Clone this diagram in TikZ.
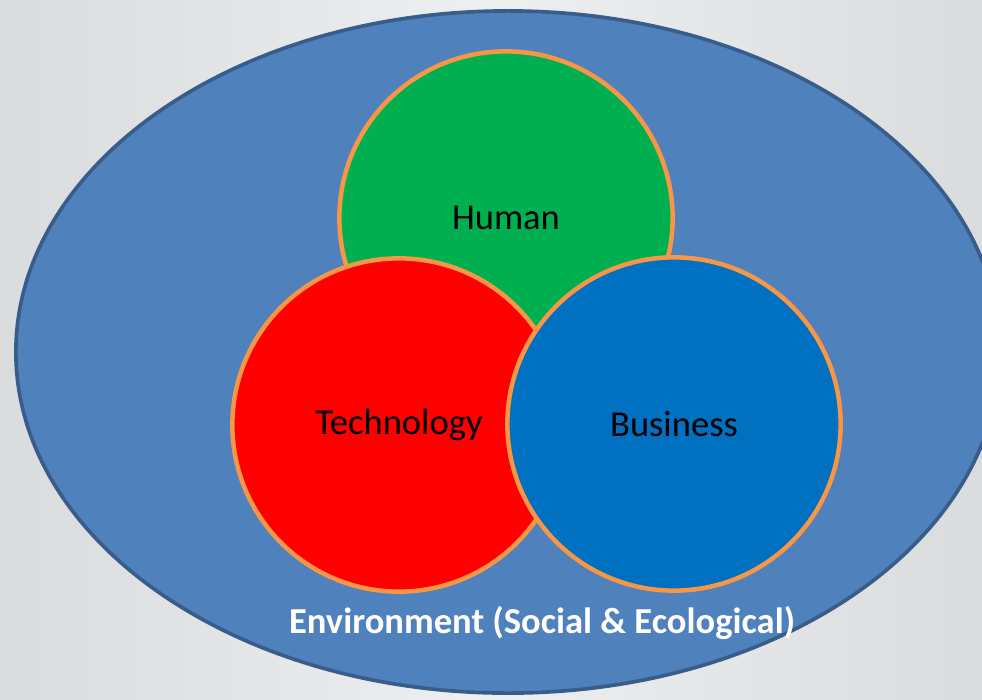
\documentclass[tikz,border=0pt]{standalone}
\usepackage{fontspec}
\setmainfont{Carlito}
\usetikzlibrary{shapes.geometric}

\definecolor{bgdark}{HTML}{DADBDD}
\definecolor{bglight}{HTML}{EEEFF1}
\definecolor{envblue}{HTML}{4F81BD}
\definecolor{envedge}{HTML}{385D8A}
\definecolor{vennorange}{HTML}{F79646}
\definecolor{humangreen}{HTML}{00B050}
\definecolor{techred}{HTML}{FF0000}
\definecolor{busblue}{HTML}{0070C0}

\begin{document}
\begin{tikzpicture}[x=0.025cm, y=-0.025cm,
  venn/.style={circle, draw=vennorange, line width=3.2pt, minimum size=8.33cm, inner sep=0pt, font=\fontsize{26}{31}\selectfont},
  env/.style={ellipse, draw=envedge, line width=2.6pt, fill=envblue, minimum width=24.6cm, minimum height=17.05cm, inner sep=0pt}
]

% Background
\clip (0,0) rectangle (982,699);
\shade[left color=bgdark, right color=bgdark, middle color=bglight] (0,0) rectangle (982,699);

% Environment
\node[env] (environment) at (508,352) {};
\node[font=\bfseries\fontsize{26}{31}\selectfont, text=white] (envlabel) at (542,623) {Environment (Social \& Ecological)};

% Circles
\node[venn, fill=humangreen] (human) at (506,218) {Human};
\node[venn, fill=techred] (technology) at (399,425) {Technology};
\node[venn, fill=busblue] (business) at (674,424) {Business};

\end{tikzpicture}
\end{document}
